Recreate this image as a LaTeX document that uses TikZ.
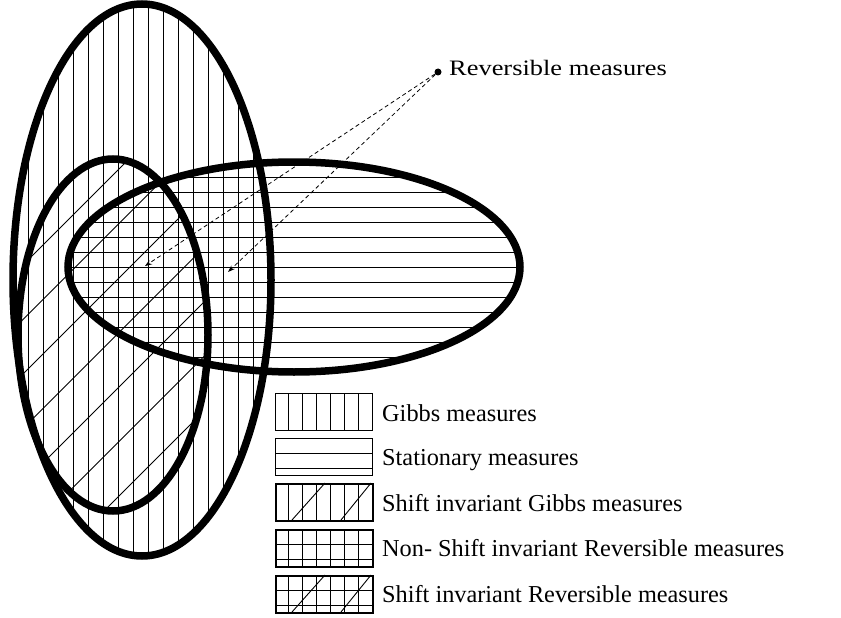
\documentclass[tikz,border=0pt]{standalone}
\usepackage{fontspec}
\setmainfont{Liberation Serif}
\usetikzlibrary{arrows.meta}
\begin{document}
\begin{tikzpicture}[x=1pt,y=-1pt,
  hatch/.style={line width=0.9pt},
  outline/.style={line width=7.5pt},
  lbl/.style={anchor=base west, font=\fontsize{24.3}{28}\selectfont, inner sep=0pt},
  toplbl/.style={anchor=base west, font=\fontsize{22}{26}\selectfont, inner sep=0pt, xscale=1.2},
  thinbox/.style={draw, line width=1pt, minimum width=97pt, minimum height=37pt, anchor=north west, inner sep=0pt},
  thickbox/.style={thinbox, line width=1.8pt},
  revarrow/.style={line width=0.8pt, dash pattern=on 4pt off 3pt, -{Stealth[length=7pt,width=5pt]}}]
\useasboundingbox (0,0) rectangle (841,618);
% Gibbs: vertical hatching
\begin{scope}
  \clip (142,280) ellipse [x radius=129pt, y radius=276pt];
  \foreach \x in {28,43,...,268} \draw[hatch] (\x,0) -- (\x,618);
\end{scope}
% Stationary: horizontal hatching
\begin{scope}
  \clip (294,267) ellipse [x radius=226pt, y radius=105pt];
  \foreach \y in {177,192,...,360} \draw[hatch] (60,\y) -- (530,\y);
\end{scope}
% Shift invariant Gibbs: diagonal hatching
\begin{scope}
  \clip (113,335) ellipse [x radius=95pt, y radius=176pt];
  \foreach \k in {0,...,8} \draw[hatch] ({288+54.5*\k},0) -- ({288+54.5*\k-618},618);
\end{scope}
% outlines
\draw[outline] (142,280) ellipse [x radius=129pt, y radius=276pt];
\draw[outline] (294,267) ellipse [x radius=226pt, y radius=105pt];
\draw[outline] (113,335) ellipse [x radius=95pt, y radius=176pt];
% Reversible measures pointer
\node[circle, fill, inner sep=0pt, minimum size=7pt] (rev) at (438,72) {};
\node[toplbl] (revtext) at (449,75) {Reversible measures};
\coordinate (t1) at (145,266);
\coordinate (t2) at (228,272);
\draw[revarrow] (rev) -- (t1);
\draw[revarrow] (rev) -- (t2);
% legend boxes
\node[thinbox] (b1) at (275,393) {};
\node[thinbox] (b2) at (275,438) {};
\node[thickbox] (b3) at (275,483) {};
\node[thickbox] (b4) at (275,529) {};
\node[thickbox] (b5) at (275,575) {};
\foreach \t in {393,483,529,575}
  \foreach \k in {1,...,6} \draw[line width=0.9pt] ({275+13.86*\k},\t) -- ({275+13.86*\k},\t+37);
\foreach \t in {438,529,575}
  {\draw[line width=0.9pt] (275,\t+15) -- (372,\t+15);
   \draw[line width=0.9pt] (275,\t+30) -- (372,\t+30);}
\foreach \t in {483,575}
  {\draw[line width=0.9pt] (292,\t+37) -- (325,\t);
   \draw[line width=0.9pt] (341,\t+37) -- (371,\t);}
\node[lbl] (l1) at (382,421) {Gibbs measures};
\node[lbl] (l2) at (382,465.5) {Stationary measures};
\node[lbl] (l3) at (382,511) {Shift invariant Gibbs measures};
\node[lbl] (l4) at (382,556.5) {Non- Shift invariant Reversible measures};
\node[lbl] (l5) at (382,602) {Shift invariant Reversible measures};
\end{tikzpicture}
\end{document}
